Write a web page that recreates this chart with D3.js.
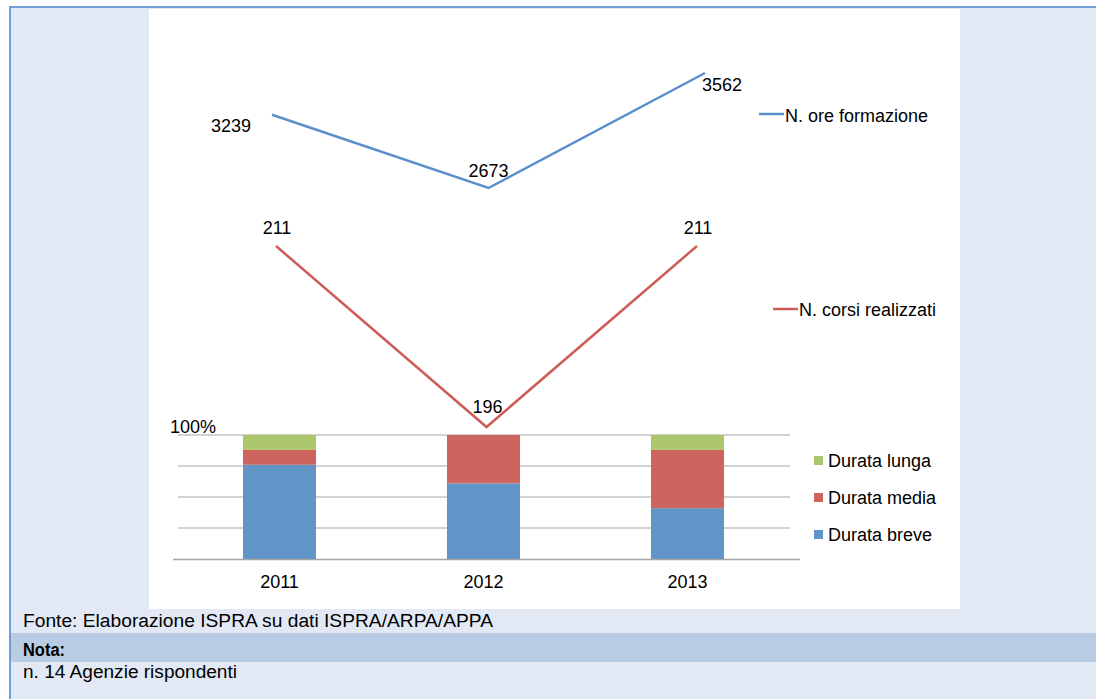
<!DOCTYPE html>
<html>
<head>
<meta charset="utf-8">
<script src="https://cdn.jsdelivr.net/npm/d3@7"></script>
<style>
  body { margin: 0; background: #fff; }
  svg { display: block; font-family: "Liberation Sans", Arial, sans-serif; }
</style>
</head>
<body>
<script>
var years = ["2011", "2012", "2013"];
var oreFormazione = [3239, 2673, 3562];
var corsiRealizzati = [211, 196, 211];
// share of courses by length (%)
var durataBreve = [76, 61, 41];
var durataMedia = [12, 39, 47];
var durataLunga = [12, 0, 12];
var pctTicks = [0, 25, 50, 75, 100];

var W = 1096, H = 699;
var fs = 18;
var svg = d3.select("body").append("svg").attr("width", W).attr("height", H);

// page background and frame
svg.append("rect").attr("width", W).attr("height", H).attr("fill", "#fff");
svg.append("rect").attr("x", 10).attr("y", 8).attr("width", W - 10).attr("height", H - 8).attr("fill", "#e2e9f5");
svg.append("line").attr("x1", 10).attr("x2", W).attr("y1", 7).attr("y2", 7).attr("stroke", "#739fd8").attr("stroke-width", 2);
svg.append("line").attr("x1", 10).attr("x2", 10).attr("y1", 6).attr("y2", H).attr("stroke", "#739fd8").attr("stroke-width", 2);
svg.append("rect").attr("x", 149).attr("y", 9).attr("width", 811).attr("height", 600).attr("fill", "#fff");

// stacked bars
var xBand = d3.scaleBand().domain(years).range([177.5, 789.5]).paddingInner(0.642).paddingOuter(0.321);
var yPct = d3.scaleLinear().domain([0, 100]).range([559, 435]);

svg.append("g").selectAll("line").data(pctTicks.slice(1)).enter().append("line")
  .attr("x1", 178).attr("x2", 790)
  .attr("y1", function(d) { return yPct(d); }).attr("y2", function(d) { return yPct(d); })
  .attr("stroke", "#a6a6a6").attr("stroke-width", 1);

var series = [
  { name: "Durata breve", values: durataBreve, color: "#6195c8" },
  { name: "Durata media", values: durataMedia, color: "#cd645e" },
  { name: "Durata lunga", values: durataLunga, color: "#abc66d" }
];

var base = [0, 0, 0];
series.forEach(function(s) {
  svg.append("g").selectAll("rect").data(years).enter().append("rect")
    .attr("x", function(d) { return xBand(d); })
    .attr("width", xBand.bandwidth())
    .attr("y", function(d, i) { return yPct(base[i] + s.values[i]); })
    .attr("height", function(d, i) { return yPct(base[i]) - yPct(base[i] + s.values[i]); })
    .attr("fill", s.color);
  base = base.map(function(b, i) { return b + s.values[i]; });
});

svg.append("line").attr("x1", 173).attr("x2", 800).attr("y1", 559.5).attr("y2", 559.5)
  .attr("stroke", "#a6a6a6").attr("stroke-width", 1.5);

svg.append("text").attr("x", 170).attr("y", 433).attr("font-size", fs).text("100%");

var xAxis = d3.axisBottom(xBand).tickSize(0).tickPadding(16);
var gx = svg.append("g").attr("transform", "translate(0,559)").call(xAxis);
gx.select(".domain").remove();
gx.selectAll("text").attr("font-size", fs).attr("fill", "#000").attr("font-family", "Liberation Sans, Arial, sans-serif");

// bar legend
var legBars = series.slice().reverse();
legBars.forEach(function(s, i) {
  var y = 467 + i * 37;
  svg.append("rect").attr("x", 814).attr("y", y - 11).attr("width", 9).attr("height", 9).attr("fill", s.color);
  svg.append("text").attr("x", 828).attr("y", y).attr("font-size", fs).text(s.name);
});

// line: N. ore formazione
var xOre = d3.scalePoint().domain(years).range([272, 705]);
var yOre = d3.scaleLinear().domain([2673, 3562]).range([188, 73]);
var lineOre = d3.line().x(function(d, i) { return xOre(years[i]); }).y(function(d) { return yOre(d); });
svg.append("path").datum(oreFormazione).attr("d", lineOre)
  .attr("fill", "none").attr("stroke", "#5b8fcb").attr("stroke-width", 2.5);
var oreLabelDx = [-41, 0, 17], oreLabelDy = [17, -11, 18];
svg.append("g").selectAll("text").data(oreFormazione).enter().append("text")
  .attr("x", function(d, i) { return xOre(years[i]) + oreLabelDx[i]; })
  .attr("y", function(d, i) { return yOre(d) + oreLabelDy[i]; })
  .attr("text-anchor", "middle").attr("font-size", fs).text(function(d) { return d; });
svg.append("line").attr("x1", 759).attr("x2", 784).attr("y1", 114).attr("y2", 114).attr("stroke", "#5b8fcb").attr("stroke-width", 2.5);
svg.append("text").attr("x", 785).attr("y", 122).attr("font-size", fs).text("N. ore formazione");

// line: N. corsi realizzati
var xCorsi = d3.scalePoint().domain(years).range([276, 697]);
var yCorsi = d3.scaleLinear().domain([196, 211]).range([427, 246]);
var lineCorsi = d3.line().x(function(d, i) { return xCorsi(years[i]); }).y(function(d) { return yCorsi(d); });
svg.append("path").datum(corsiRealizzati).attr("d", lineCorsi)
  .attr("fill", "none").attr("stroke", "#cd5c57").attr("stroke-width", 2.5);
var corsiLabelDy = [-12, -14, -12];
svg.append("g").selectAll("text").data(corsiRealizzati).enter().append("text")
  .attr("x", function(d, i) { return xCorsi(years[i]) + 1; })
  .attr("y", function(d, i) { return yCorsi(d) + corsiLabelDy[i]; })
  .attr("text-anchor", "middle").attr("font-size", fs).text(function(d) { return d; });
svg.append("line").attr("x1", 773).attr("x2", 798).attr("y1", 309).attr("y2", 309).attr("stroke", "#cd5c57").attr("stroke-width", 2.5);
svg.append("text").attr("x", 799).attr("y", 316).attr("font-size", fs).text("N. corsi realizzati");

// footer
var narrow = "'Liberation Sans Narrow', 'Arial Narrow', 'Liberation Sans', sans-serif";
svg.append("text").attr("x", 23).attr("y", 627).attr("font-size", 18).attr("font-family", narrow)
  .attr("textLength", 470).attr("lengthAdjust", "spacingAndGlyphs")
  .text("Fonte: Elaborazione ISPRA su dati ISPRA/ARPA/APPA");
svg.append("rect").attr("x", 11).attr("y", 633).attr("width", W - 11).attr("height", 29).attr("fill", "#b8cce4");
svg.append("text").attr("x", 23).attr("y", 656).attr("font-size", 18).attr("font-weight", "bold").attr("font-family", narrow)
  .attr("textLength", 42).attr("lengthAdjust", "spacingAndGlyphs").text("Nota:");
svg.append("text").attr("x", 23).attr("y", 678).attr("font-size", 18).attr("font-family", narrow)
  .attr("textLength", 214).attr("lengthAdjust", "spacingAndGlyphs").text("n. 14 Agenzie rispondenti");
</script>
</body>
</html>
